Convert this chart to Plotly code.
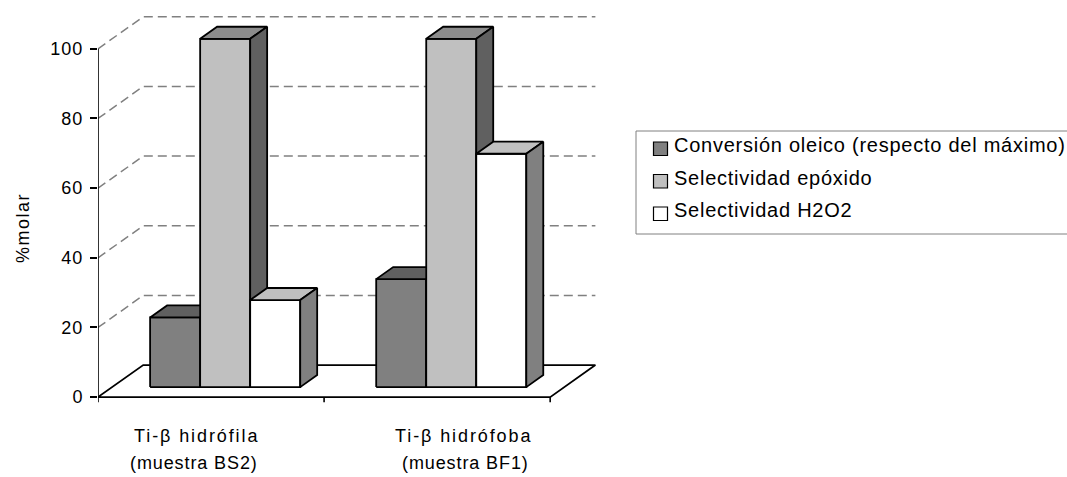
import plotly.graph_objects as go

# ---- data -------------------------------------------------------------
categories = ["Ti-β hidrófila", "Ti-β hidrófoba"]
samples = ["(muestra BS2)", "(muestra BF1)"]
series_names = [
    "Conversión oleico (respecto del máximo)",
    "Selectividad epóxido",
    "Selectividad H2O2",
]
conversion = [20, 31]
sel_epoxido = [100, 100]
sel_h2o2 = [25, 67]
y_ticks = [0, 20, 40, 60, 80, 100]
y_title = "%molar"

series_values = [conversion, sel_epoxido, sel_h2o2]

# ---- styling ----------------------------------------------------------
front_colors = ["#808080", "#C0C0C0", "#FFFFFF"]
top_colors = ["#606060", "#8C8C8C", "#C0C0C0"]
side_colors = ["#606060", "#606060", "#808080"]
FONT = "Liberation Sans, Arial, sans-serif"

W, H = 1067, 477
ML, MR, MT, MB = 98, 449, 7, 52
X_RANGE = [0, 2.3]
Y_RANGE = [-8, 112]
DEPTH_X, DEPTH_Y = 0.2, 9.2      # oblique offset of the back wall (data units)
F0, F1 = 0.3125, 0.6875          # bar front/back as fractions of the floor depth
BAR_W = 0.2213                   # bar width in category units
GROUP_OFF = 0.168                # gap before the first bar of each group
EDGE = dict(color="black", width=1.8)

n_cat = len(categories)
plot_w = W - ML - MR
plot_h = H - MT - MB


def paper_x(px):
    return (px - ML) / plot_w


def paper_y(py):
    return (H - MB - py) / plot_h


def spaced(text, px):
    """Wrap text in a span with extra tracking between letters."""
    return f'<span style="letter-spacing:{px}px">{text}</span>'


fig = go.Figure()

# dashed gridlines: diagonal on the side wall, horizontal on the back wall
gx, gy = [], []
for v in y_ticks[1:]:
    gx += [0, DEPTH_X, n_cat + DEPTH_X, None]
    gy += [v, v + DEPTH_Y, v + DEPTH_Y, None]
fig.add_trace(go.Scatter(
    x=gx, y=gy, mode="lines",
    line=dict(color="#808080", width=1.5, dash="9px,5px"),
    hoverinfo="skip", showlegend=False))

# floor outline
fig.add_trace(go.Scatter(
    x=[0, n_cat, n_cat + DEPTH_X, DEPTH_X, 0],
    y=[0, 0, DEPTH_Y, DEPTH_Y, 0],
    mode="lines", line=EDGE, hoverinfo="skip", showlegend=False))

# value axis line and category tick marks
tick_down = 1.5
ax_x = [0, 0, None]
ax_y = [y_ticks[0], y_ticks[-1], None]
for k in range(n_cat + 1):
    ax_x += [k, k, None]
    ax_y += [0, -tick_down, None]
fig.add_trace(go.Scatter(
    x=ax_x, y=ax_y, mode="lines", line=dict(color="black", width=1.6),
    hoverinfo="skip", showlegend=False))

# 3-D bars: front face, top face, right side face
ddx = (F1 - F0) * DEPTH_X
ddy = (F1 - F0) * DEPTH_Y
for i in range(n_cat):
    for j, vals in enumerate(series_values):
        v = vals[i]
        x0 = i + GROUP_OFF + j * BAR_W + F0 * DEPTH_X
        x1 = x0 + BAR_W
        yb = F0 * DEPTH_Y
        yt = yb + v
        faces = [
            ([x0, x1, x1, x0, x0], [yb, yb, yt, yt, yb], front_colors[j]),
            ([x0, x1, x1 + ddx, x0 + ddx, x0],
             [yt, yt, yt + ddy, yt + ddy, yt], top_colors[j]),
            ([x1, x1 + ddx, x1 + ddx, x1, x1],
             [yb, yb + ddy, yt + ddy, yt, yb], side_colors[j]),
        ]
        for fx, fy, col in faces:
            fig.add_trace(go.Scatter(
                x=fx, y=fy, mode="lines", fill="toself", fillcolor=col,
                line=EDGE, hoverinfo="skip", showlegend=False,
                name=series_names[j]))

# ---- legend (box, swatches, labels) -------------------------------------
shapes = [dict(
    type="rect", xref="paper", yref="paper",
    x0=paper_x(636), x1=paper_x(1110), y0=paper_y(131), y1=paper_y(234),
    line=dict(color="#808080", width=1), fillcolor="rgba(0,0,0,0)")]
annotations = []
row_text_y = [145, 177.5, 210]
for j, name in enumerate(series_names):
    sq_top = row_text_y[j] - 3
    shapes.append(dict(
        type="rect", xref="paper", yref="paper",
        x0=paper_x(653.5), x1=paper_x(667.5),
        y0=paper_y(sq_top), y1=paper_y(sq_top + 13.5),
        line=dict(color="black", width=1.2), fillcolor=front_colors[j]))
    annotations.append(dict(
        xref="paper", yref="paper", x=paper_x(672), y=paper_y(row_text_y[j]),
        xanchor="left", yanchor="middle", showarrow=False,
        text=spaced(name, 0.75),
        font=dict(family=FONT, size=20, color="black")))

# category labels below the floor
label_pos = [(196, 194), (463, 465)]
for i in range(n_cat):
    annotations.append(dict(
        xref="paper", yref="paper", x=paper_x(label_pos[i][0]), y=paper_y(436),
        xanchor="center", yanchor="middle", showarrow=False,
        text=spaced(categories[i], 1.9),
        font=dict(family=FONT, size=18, color="black")))
    annotations.append(dict(
        xref="paper", yref="paper", x=paper_x(label_pos[i][1]), y=paper_y(463),
        xanchor="center", yanchor="middle", showarrow=False,
        text=spaced(samples[i], 0.9),
        font=dict(family=FONT, size=18, color="black")))

# value axis title
annotations.append(dict(
    xref="paper", yref="paper", x=paper_x(23), y=paper_y(228),
    xanchor="center", yanchor="middle", showarrow=False,
    text=spaced(y_title, 1.5),
    textangle=-90, font=dict(family=FONT, size=18, color="black")))

fig.update_layout(
    width=W, height=H,
    margin=dict(l=ML, r=MR, t=MT, b=MB, pad=0),
    paper_bgcolor="white", plot_bgcolor="white",
    showlegend=False,
    shapes=shapes, annotations=annotations,
    font=dict(family=FONT, color="black"),
    xaxis=dict(range=X_RANGE, visible=False, fixedrange=True),
    yaxis=dict(
        range=Y_RANGE, tickvals=y_ticks,
        ticktext=[spaced(str(t), 1) for t in y_ticks],
        ticks="outside", ticklen=7, ticklabelstandoff=3,
        tickwidth=1.5, tickcolor="black", showgrid=False, zeroline=False,
        showline=False, tickfont=dict(family=FONT, size=18, color="black"),
        fixedrange=True),
)

fig.write_html("out.html")
